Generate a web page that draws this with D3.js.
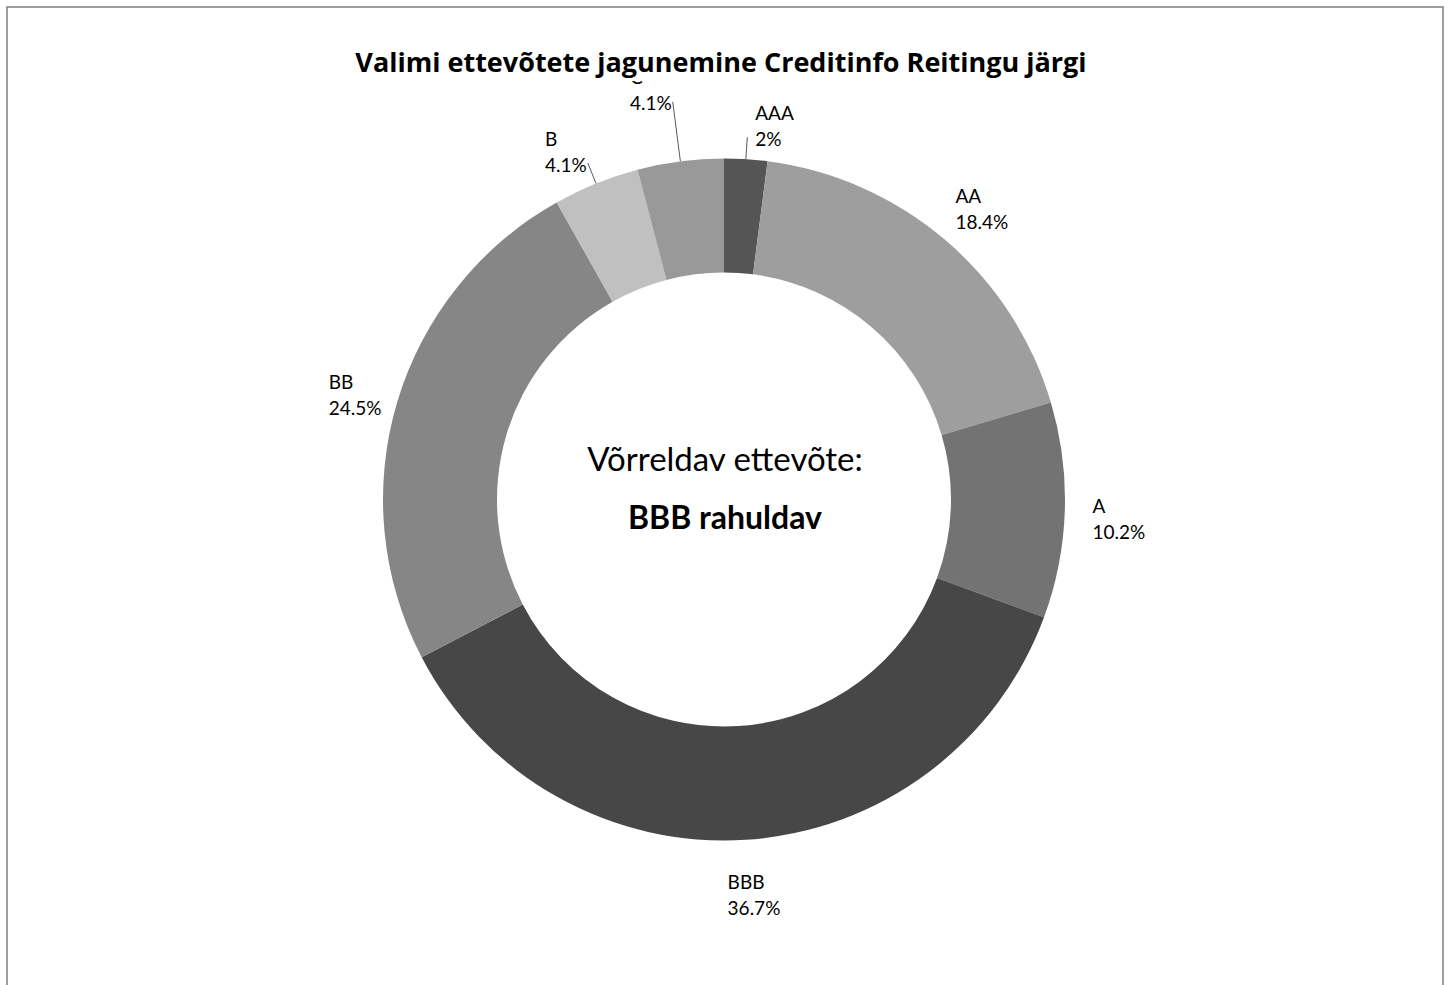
<!DOCTYPE html>
<html>
<head>
	<meta http-equiv="Content-Type" content="text/html; charset=utf-8">
	<title>Valimi ettevõtete jagunemine Creditinfo Reitingu järgi</title>
	<script type="text/javascript" src="https://cdn.jsdelivr.net/npm/d3@7/dist/d3.min.js"></script>
	<style type="text/css">
		body{
			margin: 0;
			background: #ffffff;
		}
		svg text{
			font-family: Lato, "Open Sans", sans-serif;
			fill: #000000;
		}
	</style>
</head>
<body>
<div id="chart"></div>

<script type="text/javascript">

// data (49 companies in the sample)
var categories = ["AAA", "AA", "A", "BBB", "BB", "B", "C"];
var counts = [1, 9, 5, 18, 12, 2, 2];
var colors = ["#555555", "#9e9e9e", "#737373", "#474747", "#868686", "#c0c0c0", "#999999"];

var title = "Valimi ettevõtete jagunemine Creditinfo Reitingu järgi";
var centerLine1 = "Võrreldav ettevõte:";
var centerLine2 = "BBB rahuldav";

var width = 1451, height = 985;
var cx = 724, cy = 499.5;
var outerR = 341, innerR = 227;
var labelFont = 19, lineH = 26;

var total = d3.sum(counts);
var data = categories.map(function(c, i){
	return {name: c, value: counts[i], color: colors[i]};
});

function pctText(v){
	var p = Math.round(v / total * 1000) / 10;
	return (p % 1 == 0 ? p.toFixed(0) : p.toFixed(1)) + "%";
}

var svg = d3.select("#chart").append("svg")
	.attr("width", width)
	.attr("height", height);

// frame
svg.append("rect")
	.attr("x", 7).attr("y", 7)
	.attr("width", 1436).attr("height", 1000)
	.attr("fill", "none")
	.attr("stroke", "#7f7f7f")
	.attr("stroke-width", 1.5);

var pie = d3.pie().sort(null).value(function(d){ return d.value; });
var arc = d3.arc().innerRadius(innerR).outerRadius(outerR);
var arcs = pie(data);

var g = svg.append("g").attr("transform", "translate(" + cx + "," + cy + ")");

g.selectAll("path.slice")
	.data(arcs).enter()
	.append("path")
	.attr("class", "slice")
	.attr("d", arc)
	.attr("fill", function(d){ return d.data.color; });

// labels
var labelG = g.append("g");
var prevSmallSide = null;

arcs.forEach(function(d, i){
	var a = (d.startAngle + d.endAngle) / 2;
	var s = Math.sin(a), c = -Math.cos(a);
	var frac = d.value / total;

	var t = labelG.append("text").attr("font-size", labelFont);
	var t1 = t.append("tspan").text(d.data.name);
	var t2 = t.append("tspan").text(pctText(d.value));
	var w = Math.max(t1.node().getComputedTextLength(), t2.node().getComputedTextLength());

	var bx, by; // block centre
	if(frac >= 0.05){
		var r = 390;
		bx = s * r + 5;
		by = c * r + 6;
		prevSmallSide = null;
	}
	else{
		var side = s >= 0 ? 1 : -1;
		var lead = 22;
		if(prevSmallSide === side) lead += 38; // stagger neighbouring small labels
		prevSmallSide = side;
		var x0 = s * outerR, y0 = c * outerR;
		var x1 = s * (outerR + lead), y1 = c * (outerR + lead);
		labelG.append("line")
			.attr("x1", x0).attr("y1", y0)
			.attr("x2", x1).attr("y2", y1)
			.attr("stroke", "#595959")
			.attr("stroke-width", 1);
		bx = side > 0 ? x1 + 8 + w / 2 : x1 - 1 - w / 2;
		by = y1 - 12;
	}

	var left = bx - w / 2;
	t1.attr("x", left).attr("y", by - lineH / 2).attr("dominant-baseline", "central");
	t2.attr("x", left).attr("y", by + lineH / 2).attr("dominant-baseline", "central");
});

// centre text
g.append("text")
	.attr("x", 1).attr("y", -29)
	.attr("text-anchor", "middle")
	.attr("font-size", 33)
	.text(centerLine1);
g.append("text")
	.attr("x", 1).attr("y", 29)
	.attr("text-anchor", "middle")
	.attr("font-size", 32)
	.attr("font-weight", "bold")
	.text(centerLine2);

// title box covers whatever sits under it
svg.append("rect")
	.attr("x", 345).attr("y", 40)
	.attr("width", 752).attr("height", 41)
	.attr("fill", "#ffffff");
svg.append("text")
	.attr("x", 721).attr("y", 72)
	.attr("text-anchor", "middle")
	.attr("font-size", 27)
	.attr("font-weight", "bold")
	.style("font-family", "'Open Sans', Lato, sans-serif")
	.text(title);

</script>
</body>
</html>
